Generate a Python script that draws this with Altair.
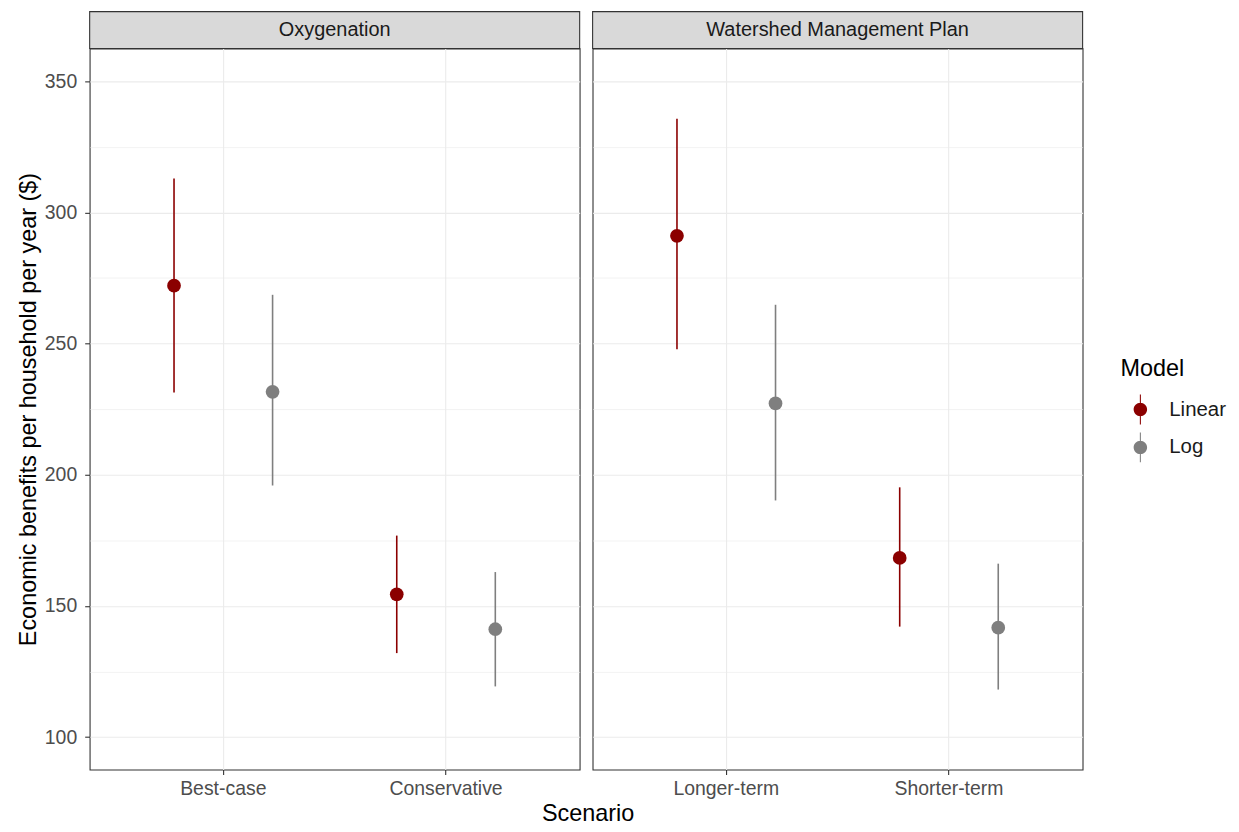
import altair as alt
import pandas as pd

plans = ["Oxygenation"] * 4 + ["Watershed Management Plan"] * 4
scenarios = ["Best-case", "Best-case", "Conservative", "Conservative",
             "Longer-term", "Longer-term", "Shorter-term", "Shorter-term"]
models = ["Linear", "Log"] * 4
estimates = [272.1, 231.6, 154.4, 141.1, 291.1, 227.2, 168.3, 141.7]
lower = [231.4, 195.9, 132.0, 119.3, 247.8, 190.2, 142.1, 118.1]
upper = [312.9, 268.6, 176.8, 162.9, 335.7, 264.8, 195.2, 166.1]

model_levels = ["Linear", "Log"]
model_colors = ["#8B0000", "#7F7F7F"]
y_ticks = [100, 125, 150, 175, 200, 225, 250, 275, 300, 325, 350]

df = pd.DataFrame({"Plan": plans, "Scenario": scenarios, "Model": models,
                   "Estimate": estimates, "Lower": lower, "Upper": upper})

FONT = "Liberation Sans"
W, H = 492, 724
STRIP = 37
TICK_FS = 19.5
TITLE_FS = 23.5

legend_symbol = ("M-0.45,0A0.45,0.45,0,1,1,0.45,0A0.45,0.45,0,1,1,-0.45,0Z "
                 "M-0.035,-1L0.035,-1L0.035,1L-0.035,1Z")

color = alt.Color("Model:N", scale=alt.Scale(domain=model_levels, range=model_colors),
                  legend=alt.Legend(title="Model", orient="none", legendX=1035, legendY=310,
                                    symbolType=legend_symbol, symbolSize=900,
                                    symbolStrokeWidth=0, symbolOffset=5,
                                    titleFontSize=TITLE_FS,
                                    titleFont=FONT, titleFontWeight="normal",
                                    titleColor="#000000", labelFontSize=20.5,
                                    labelFont=FONT, labelColor="#1A1A1A",
                                    rowPadding=8, labelOffset=14, titlePadding=14))


def panel(name, show_y):
    sub = df[df["Plan"] == name]
    cats = list(dict.fromkeys(sub["Scenario"]))
    x = alt.X("Scenario:N", sort=cats, title=None,
              scale=alt.Scale(type="band", paddingInner=0, paddingOuter=0.1),
              axis=alt.Axis(labelAngle=0, labelFontSize=TICK_FS, labelFont=FONT,
                            labelColor="#4D4D4D", tickColor="#333333", tickSize=5,
                            tickWidth=1.1, labelPadding=5, grid=True, gridColor="#EBEBEB",
                            gridWidth=1.1, bandPosition=0.5, domain=False))
    xo = alt.XOffset("Model:N", sort=model_levels,
                     scale=alt.Scale(type="band", paddingInner=0, paddingOuter=0.13))
    if show_y:
        yaxis = alt.Axis(values=y_ticks, title="Economic benefits per household per year ($)",
                         labelExpr="datum.value % 50 === 0 ? datum.label : ''",
                         labelFontSize=TICK_FS, labelFont=FONT, labelColor="#4D4D4D",
                         titleFontSize=TITLE_FS, titleFont=FONT, titleFontWeight="normal",
                         titleColor="#000000", titlePadding=4,
                         tickColor="#333333", tickSize=5, tickWidth=1.1, labelPadding=8,
                         tickOpacity={"condition": {"test": "datum.value % 50 === 0", "value": 1}, "value": 0},
                         gridColor="#EBEBEB",
                         gridWidth={"condition": {"test": "datum.value % 50 === 0", "value": 1.1}, "value": 0.6},
                         domain=False)
    else:
        yaxis = alt.Axis(values=y_ticks, title=None, labels=False, ticks=False,
                         domain=False, gridColor="#EBEBEB", minExtent=0,
                         gridWidth={"condition": {"test": "datum.value % 50 === 0", "value": 1.1}, "value": 0.6})
    yscale = alt.Scale(domain=[87.6, 362.5], nice=False, zero=False)

    base = alt.Chart(sub)
    rules = base.mark_rule(strokeWidth=1.6).encode(
        x=x, xOffset=xo,
        y=alt.Y("Lower:Q", scale=yscale, axis=yaxis),
        y2="Upper:Q",
        color=color)
    points = base.mark_point(filled=True, size=190, opacity=1).encode(
        x=x, xOffset=xo,
        y=alt.Y("Estimate:Q", scale=yscale),
        color=color)
    strip_df = pd.DataFrame({"Plan": [name]})
    strip_rect = alt.Chart(strip_df).mark_rect(fill="#D9D9D9", stroke="#333333",
                                              strokeWidth=1.1).encode(
        x=alt.value(0), x2=alt.value(W), y=alt.value(-STRIP), y2=alt.value(0))
    strip_text = alt.Chart(strip_df).mark_text(fontSize=20, font=FONT, color="#1A1A1A",
                                              baseline="middle").encode(
        x=alt.value(W / 2), y=alt.value(-STRIP / 2), text="Plan:N")
    return alt.layer(rules, points, strip_rect, strip_text).properties(width=W, height=H)


left = panel("Oxygenation", True)
right = panel("Watershed Management Plan", False)

chart = alt.hconcat(left, right, spacing=9).resolve_scale(
    x="independent", y="independent", color="shared"
).properties(
    title=alt.TitleParams("Scenario", orient="bottom", anchor="middle", fontSize=TITLE_FS,
                          font=FONT, fontWeight="normal", color="#000000", offset=4, dx=-33),
    padding={"left": 7, "top": 0, "right": 5, "bottom": 0}
).configure(
    background="white"
).configure_view(stroke="#333333", strokeWidth=1.1)

chart.save("out.html", embed_options={"renderer": "svg", "actions": False})
